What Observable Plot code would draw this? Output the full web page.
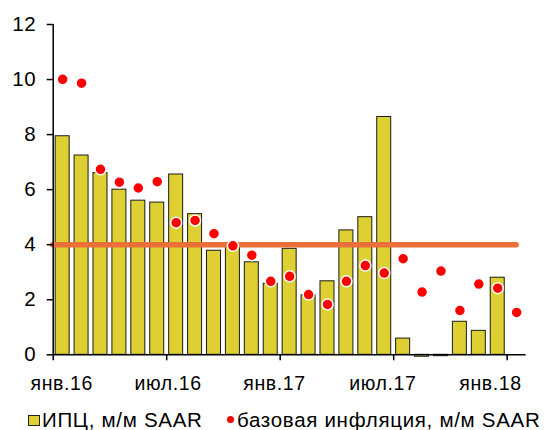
<!DOCTYPE html>
<html>
<head>
<meta charset="utf-8">
<script src="https://cdn.jsdelivr.net/npm/d3@7"></script>
<script src="https://cdn.jsdelivr.net/npm/@observablehq/plot@0.6"></script>
<style>
  body { margin: 0; background: #fff; font-family: "Liberation Sans", Arial, sans-serif; }
  #chart svg text { letter-spacing: 0.6px; }
  #legend { position: relative; height: 25px; width: 550px; font-size: 20.5px; letter-spacing: 0.7px; color: #000; }
  #legend .sw { position: absolute; left: 28px; top: 9.5px; width: 9.5px; height: 9.5px; border: 1px solid #222; background: #DED033; }
  #legend .dt { position: absolute; left: 226.5px; top: 11px; width: 7px; height: 7px; border-radius: 50%; background: #ff0000; }
  #legend .t1 { position: absolute; left: 42px; top: 2.5px; white-space: nowrap; }
  #legend .t2 { position: absolute; left: 237px; top: 2.5px; white-space: nowrap; }
</style>
</head>
<body>
<div id="chart"></div>
<div id="legend">
  <span class="sw"></span><span class="t1">ИПЦ, м/м SAAR</span>
  <span class="dt"></span><span class="t2">базовая инфляция, м/м SAAR</span>
</div>
<script>
const months = ["2016-01","2016-02","2016-03","2016-04","2016-05","2016-06","2016-07","2016-08","2016-09","2016-10","2016-11","2016-12",
                "2017-01","2017-02","2017-03","2017-04","2017-05","2017-06","2017-07","2017-08","2017-09","2017-10","2017-11","2017-12",
                "2018-01"];
const cpi  = [7.94, 7.24, 6.6, 6.0, 5.6, 5.53, 6.55, 5.11, 3.78, 3.93, 3.36, 2.58,
              3.85, 2.16, 2.67, 4.52, 5.0, 8.64, 0.59, -0.07, -0.05, 1.2, 0.87, 2.8,
              null];
const core = [10.01, 9.87, 6.74, 6.27, 6.06, 6.29, 4.8, 4.88, 4.4, 3.96, 3.62, 2.67,
              2.85, 2.19, 1.83, 2.67, 3.24, 2.97, 3.49, 2.28, 3.04, 1.61, 2.57, 2.42,
              1.54];
const target = 4;
const yTicks = [0, 2, 4, 6, 8, 10, 12];
const xTickMonths = [0, 6, 12, 18, 24];
const xTickLabels = ["янв.16", "июл.16", "янв.17", "июл.17", "янв.18"];
const xLabelAt = [0.45, 6.07, 11.7, 17.43, 23.12];

const data = months.map((m, i) => ({i, month: m, cpi: cpi[i], core: core[i]}));
const labels = xTickLabels.map((t, k) => ({label: t, at: xLabelAt[k]}));

const chart = Plot.plot({
  width: 550,
  height: 405,
  marginLeft: 52.7,
  marginRight: 24.4,
  marginTop: 24,
  marginBottom: 50.7,
  style: {fontFamily: "'Liberation Sans', Arial, sans-serif", fontSize: "19.5px", color: "#000", background: "#fff"},
  x: {type: "linear", domain: [0, months.length]},
  y: {domain: [0, 12]},
  marks: [
    Plot.rectY(data.filter(d => d.cpi != null), {
      x1: d => d.i + 0.13, x2: d => d.i + 0.87, y: "cpi",
      fill: "#DED033", stroke: "#1a1a1a", strokeWidth: 1
    }),
    Plot.ruleY([target], {x1: 0, x2: months.length - 0.5, stroke: "#EA6F38", strokeWidth: 5.5, strokeLinecap: "round"}),
    Plot.dot(data, {x: d => d.i + 0.5, y: "core", r: 5.5, fill: "#ff0000", stroke: "#fff", strokeWidth: 1.5}),
    Plot.ruleX([0], {stroke: "#000", strokeWidth: 1.5}),
    Plot.ruleY([0], {stroke: "#000", strokeWidth: 1.5}),
    Plot.axisY(yTicks, {tickSize: 6, tickPadding: 11, fontSize: 20.5, label: null, stroke: "#000", strokeWidth: 1.5}),
    Plot.axisX(xTickMonths, {tickSize: 6, tickFormat: () => "", label: null, stroke: "#000", strokeWidth: 1.5}),
    Plot.text(labels, {x: "at", y: () => 0, text: "label", dy: 29, fontSize: 19.5, textAnchor: "middle", fill: "#000"})
  ]
});
document.getElementById("chart").appendChild(chart);
</script>
</body>
</html>
